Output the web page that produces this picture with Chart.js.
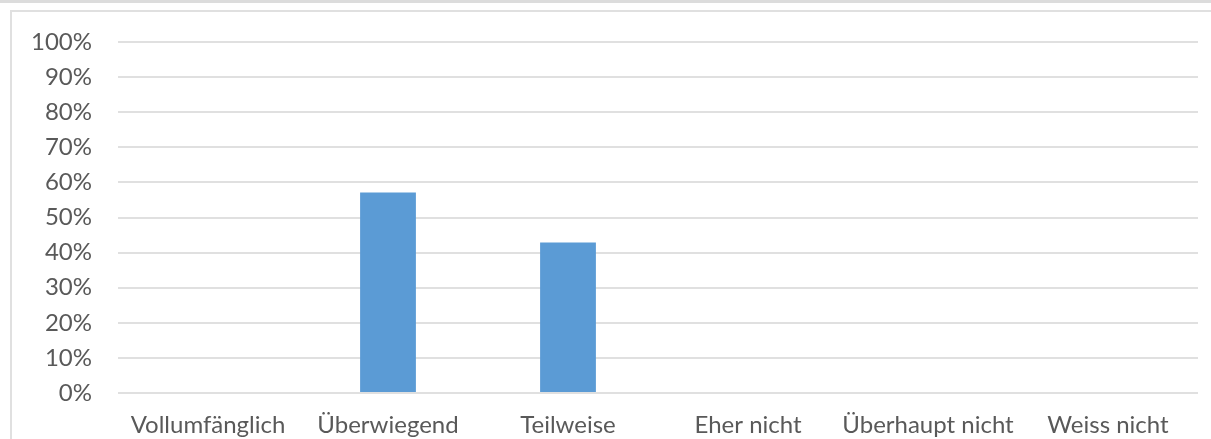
<!DOCTYPE html>
<html>
<head>
<meta charset="utf-8">
<script src="https://cdn.jsdelivr.net/npm/chart.js@4"></script>
<style>
    html, body { margin: 0; padding: 0; background: #fff; }
    body { width: 1211px; height: 439px; position: relative; overflow: hidden; }
    #strip { position: absolute; left: 0; top: 0; width: 1211px; height: 3px; background: #dcdcdc; }
    #frame { position: absolute; left: 10px; top: 10px; width: 1220px; height: 450px;
             border-top: 2px solid #e0e0e0; border-left: 2px solid #e0e0e0; }
    #wrap { position: absolute; left: 0; top: 0; width: 1211px; height: 439px; }
</style>
</head>
<body>
<div id="strip"></div>
<div id="frame"></div>
<div id="wrap"><canvas id="chartOne"></canvas></div>
<script>
const categories = ['Vollumfänglich', 'Überwiegend', 'Teilweise', 'Eher nicht', 'Überhaupt nicht', 'Weiss nicht'];
const shares = [0, 57.1, 42.9, 0, 0, 0];
const yTicks = [0, 10, 20, 30, 40, 50, 60, 70, 80, 90, 100];

const textColor = '#595959';
const font = { family: 'Lato, "Open Sans", sans-serif', size: 24 };

const chart = new Chart(document.getElementById('chartOne').getContext('2d'), {
    type: 'bar',
    data: {
        labels: categories,
        datasets: [{
            data: shares,
            backgroundColor: '#5b9bd5',
            borderWidth: 0,
            barPercentage: 0.31,
            categoryPercentage: 1,
        }],
    },
    options: {
        responsive: true,
        maintainAspectRatio: false,
        animation: false,
        layout: { padding: { top: 42, right: 13, bottom: 0, left: 0 } },
        plugins: { legend: { display: false }, tooltip: { enabled: false } },
        scales: {
            x: {
                grid: { display: false, drawTicks: false },
                border: { display: false },
                ticks: { color: textColor, font: font, padding: 18, maxRotation: 0, autoSkip: false },
                afterFit: (axis) => { axis.height = 46; },
            },
            y: {
                min: 0,
                max: 100,
                afterBuildTicks: (axis) => { axis.ticks = yTicks.map(v => ({ value: v })); },
                grid: { color: '#e0e0e0', lineWidth: 2, drawTicks: false },
                border: { display: false },
                ticks: { color: textColor, font: font, padding: 26, callback: v => v + '%' },
                afterFit: (axis) => { axis.width = 118; },
            },
        },
    },
});
</script>
</body>
</html>
